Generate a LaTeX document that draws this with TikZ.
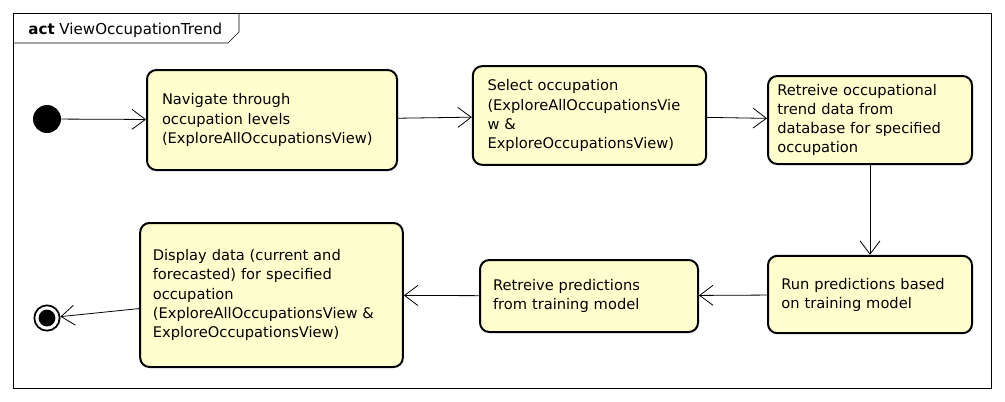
\documentclass[tikz,border=0pt]{standalone}
\usepackage{fontspec}
\setmainfont{DejaVu Sans}
\usetikzlibrary{arrows.meta}

\definecolor{actfill}{RGB}{255,255,206}

\begin{document}
\begin{tikzpicture}[
    x = 0.75pt, y = -0.75pt, % pixel grid of the reference
    > = {Straight Barb[length=10pt,width=15pt]}, % open arrow head
    semithick % line style
    ]

    \tikzset{
    action/.style = {
        draw = black,
        line width = 1.5pt,
        fill = actfill,
        rounded corners = 7pt,
        align = left,
        inner xsep = 0pt,
        font = \fontsize{11}{14.3}\selectfont
    },
    initial/.style = {circle, fill = black, inner sep = 0pt, minimum size = 21pt},
    final/.style = {circle, draw = black, line width = 1.3pt, inner sep = 0pt,
        minimum size = 19pt,
        path picture = {\fill (path picture bounding box.center) circle (6.3pt);}}
    }

    \useasboundingbox (0,0) rectangle (1005,401);

    % frame with its name tab
    \draw[thin] (13,13) rectangle (991,388);
    \draw[thin] (13,43) -- (228,43) -- (239,32) -- (239,13);
    \node[anchor = base west, inner sep = 0pt, font = \fontsize{11.3}{13}\selectfont]
        (title) at (28,34) {\textbf{act} ViewOccupationTrend};

    \node[initial] (start) at (47,119) {};
    \node[action, minimum width = 187.5pt, minimum height = 75pt, text width = 165pt]
        (navigate) at (272,120)
        {Navigate through\\occupation levels\\(ExploreAllOccupationsView)};
    \node[action, minimum width = 175pt, minimum height = 74pt, text width = 153pt]
        (select) at (589.5,115.5)
        {Select occupation\\(ExploreAllOccupationsVie\\w \&\\ExploreOccupationsView)};
    \node[action, minimum width = 153pt, minimum height = 66pt, text width = 139pt]
        (trend) at (870,120)
        {Retreive occupational\\trend data from\\database for specified\\occupation};
    \node[action, minimum width = 153pt, minimum height = 58pt, text width = 133pt]
        (run) at (870,294.5)
        {Run predictions based\\on training model};
    \node[action, minimum width = 163.5pt, minimum height = 54pt, text width = 144pt]
        (fetch) at (589,296)
        {Retreive predictions\\from training model};
    \node[action, minimum width = 197pt, minimum height = 108pt, text width = 178pt]
        (display) at (271.5,295)
        {Display data (current and\\forecasted) for specified\\occupation\\(ExploreAllOccupationsView \&\\ExploreOccupationsView)};
    \node[final] (stop) at (47,318) {};

    \draw[->] (start) -- (navigate);
    \draw[->] (navigate) -- (select);
    \draw[->] (select) -- (trend);
    \draw[->] (trend) -- (run);
    \draw[->] (run) -- (fetch);
    \draw[->] (fetch) -- (display);
    \draw[->] (display) -- (stop);
\end{tikzpicture}
\end{document}
